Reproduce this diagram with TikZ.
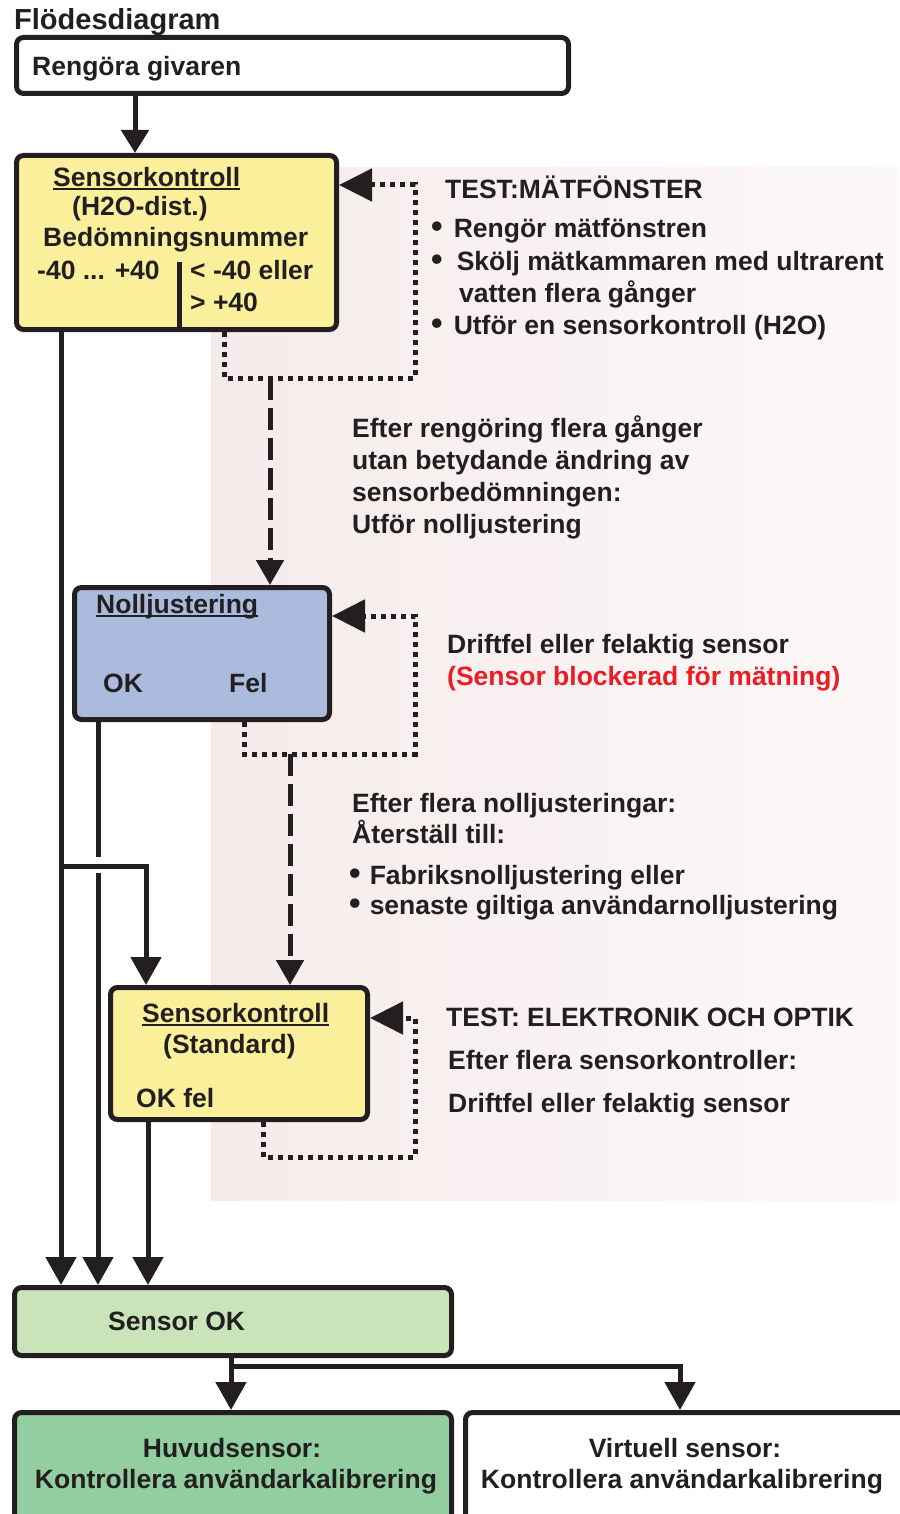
\documentclass[tikz,border=0pt]{standalone}
\usepackage{fontspec}
\setmainfont{Liberation Sans}
\usetikzlibrary{positioning,arrows.meta}

\definecolor{ink}{RGB}{35,31,32}
\definecolor{checkyellow}{RGB}{250,240,155}
\definecolor{zeroblue}{RGB}{171,187,221}
\definecolor{okgreen}{RGB}{200,228,184}
\definecolor{maingreen}{RGB}{146,206,160}
\definecolor{notered}{RGB}{237,28,36}
\definecolor{notepink}{RGB}{246,235,235}

\newsavebox\ulsave
\newcommand{\ulbox}[1]{\sbox\ulsave{#1}\rlap{\rule[-3.5pt]{\wd\ulsave}{2pt}}\usebox\ulsave}
\newcommand{\dotmark}{{\fontsize{33}{33}\selectfont •}}

\begin{document}
\begin{tikzpicture}[x=1pt,y=-1pt,
  every node/.style={inner sep=0pt, text=ink, font=\fontsize{26.5}{32}\selectfont\bfseries},
  stepbox/.style={draw=ink, line width=5pt, rounded corners=7pt, inner sep=0pt},
  flow/.style={draw=ink, line width=5pt},
  tip/.style={-{Triangle[width=30pt,length=28pt]}},
  loopline/.style={draw=ink, line width=5pt, dash pattern=on 5pt off 5pt, -{Triangle[width=32pt,length=33pt]}},
  dashline/.style={draw=ink, line width=5pt, dash pattern=on 22pt off 8pt, -{Triangle[width=27pt,length=25pt]}},
  ]
  \useasboundingbox (0,0) rectangle (899,1514);
  %Background
  \shade[left color=notepink, right color=notepink!35!white] (211,168) rectangle (899,1200);
  \node[anchor=base west, font=\fontsize{29}{32}\selectfont\bfseries] (title) at (14,30) {Flödesdiagram};

  %Boxes
  \node[stepbox, fill=white, minimum width=552, minimum height=56] (clean) at (292.5,65.5) {};
  \node[stepbox, fill=checkyellow, minimum width=320, minimum height=174] (h2o) at (176.5,242.5) {};
  \node[stepbox, fill=zeroblue, minimum width=255, minimum height=132] (zero) at (202,653.5) {};
  \node[stepbox, fill=checkyellow, minimum width=257, minimum height=132] (std) at (239,1053.5) {};
  \node[stepbox, fill=okgreen, minimum width=437, minimum height=68] (ok) at (233,1321.5) {};
  \node[stepbox, fill=maingreen, minimum width=437, minimum height=168] (main) at (233,1496.5) {};
  \node[stepbox, fill=white, minimum width=495, minimum height=168] (virt) at (713,1496.5) {};

  %Box texts
  \node[anchor=base west] (cleantxt) at (32,76) {Rengöra givaren};
  \node[anchor=base west] (h2o1) at (53,187) {\ulbox{Sensorkontroll}};
  \node[anchor=base west] (h2o2) at (72,216) {(H2O-dist.)};
  \node[anchor=base west] (h2o3) at (43,247) {Bedömningsnummer};
  \node[anchor=base west] (h2o4) at (37,279) {-40 ... +40};
  \node[anchor=base west] (h2o5) at (190,279) {< -40 eller};
  \node[anchor=base west] (h2o6) at (190,311) {> +40};
  \draw[flow] ([xshift=165pt]h2o.south west) -- ++(0,-70);
  \node[anchor=base west] (zero1) at (96,613) {\ulbox{Nolljustering}};
  \node[anchor=base west] (zero2) at (103,692) {OK};
  \node[anchor=base west] (zero3) at (229,692) {Fel};
  \node[anchor=base west] (std1) at (142,1022) {\ulbox{Sensorkontroll}};
  \node[anchor=base west] (std2) at (163,1053) {(Standard)};
  \node[anchor=base west] (std3) at (136,1107) {OK fel};
  \node[anchor=base west] (oktxt) at (108,1330) {Sensor OK};
  \node[anchor=base] (main1) at (232,1457) {Huvudsensor:};
  \node[anchor=base] (main2) at (236,1488) {Kontrollera användarkalibrering};
  \node[anchor=base] (virt1) at (685,1457) {Virtuell sensor:};
  \node[anchor=base] (virt2) at (682,1488) {Kontrollera användarkalibrering};

  %Notes
  \node[anchor=base west] (n1) at (445,199) {TEST:MÄTFÖNSTER};
  \node[anchor=base west] (n2) at (431,237) {\dotmark\hspace{11pt}Rengör mätfönstren};
  \node[anchor=base west] (n3) at (431,270) {\dotmark\hspace{14pt}Skölj mätkammaren med ultrarent};
  \node[anchor=base west] (n4) at (459,302) {vatten flera gånger};
  \node[anchor=base west] (n5) at (431,334) {\dotmark\hspace{11pt}Utför en sensorkontroll (H2O)};
  \node[anchor=base west] (n6) at (352,437) {Efter rengöring flera gånger};
  \node[anchor=base west] (n7) at (352,469) {utan betydande ändring av};
  \node[anchor=base west] (n8) at (352,501) {sensorbedömningen:};
  \node[anchor=base west] (n9) at (352,533) {Utför nolljustering};
  \node[anchor=base west] (n10) at (447,653) {Driftfel eller felaktig sensor};
  \node[anchor=base west, text=notered] (n11) at (447,685) {(Sensor blockerad för mätning)};
  \node[anchor=base west] (n12) at (352,812) {Efter flera nolljusteringar:};
  \node[anchor=base west] (n13) at (352,843) {Återställ till:};
  \node[anchor=base west] (n14) at (349,884) {\dotmark\hspace{9pt}Fabriksnolljustering eller};
  \node[anchor=base west] (n15) at (349,914) {\dotmark\hspace{9pt}senaste giltiga användarnolljustering};
  \node[anchor=base west] (n16) at (446,1026) {TEST: ELEKTRONIK OCH OPTIK};
  \node[anchor=base west] (n17) at (448,1069) {Efter flera sensorkontroller:};
  \node[anchor=base west] (n18) at (448,1112) {Driftfel eller felaktig sensor};

  %Junctions
  \coordinate (fork) at (61,866);
  \coordinate (hop1) at (98,857);
  \coordinate (hop2) at (98,873);
  \coordinate (split) at (231,1366);
  \coordinate (railB) at (415,378);
  \coordinate (railC) at (415,754);
  \coordinate (railD) at (415,1157);
  \coordinate (dropB) at (270,378);
  \coordinate (dropC) at (290,754);

  %Flow lines
  \draw[flow, -{Triangle[width=27pt,length=23pt]}] ([xshift=121pt]clean.south west) -- ([xshift=121pt]h2o.north west);
  \draw[flow, tip] ([xshift=47pt]h2o.south west) -- ([xshift=49pt]ok.north west);
  \draw[flow, tip] (fork) -| ([xshift=38pt]std.north west);
  \draw[flow] ([xshift=26pt]zero.south west) -- (hop1);
  \draw[flow, tip] (hop2) -- ([xshift=86pt]ok.north west);
  \draw[flow, tip] ([xshift=40pt]std.south west) -- ([xshift=136pt]ok.north west);
  \draw[flow, tip] ([xshift=-2pt]ok.south) -- ([xshift=-2pt]main.north);
  \draw[flow, tip] (split) -| ([xshift=-33pt]virt.north);

  %Retry loops
  \draw[loopline] ([xshift=210pt]h2o.south west) |- (railB) |- ([yshift=-32pt]h2o.north east);
  \draw[dashline] (dropB) -- (dropB |- zero.north);
  \draw[loopline] ([xshift=172pt]zero.south west) |- (railC) |- ([yshift=-31pt]zero.north east);
  \draw[dashline] (dropC) -- (dropC |- std.north);
  \draw[loopline] ([xshift=155pt]std.south west) |- (railD) |- ([yshift=-33pt]std.north east);
\end{tikzpicture}
\end{document}
